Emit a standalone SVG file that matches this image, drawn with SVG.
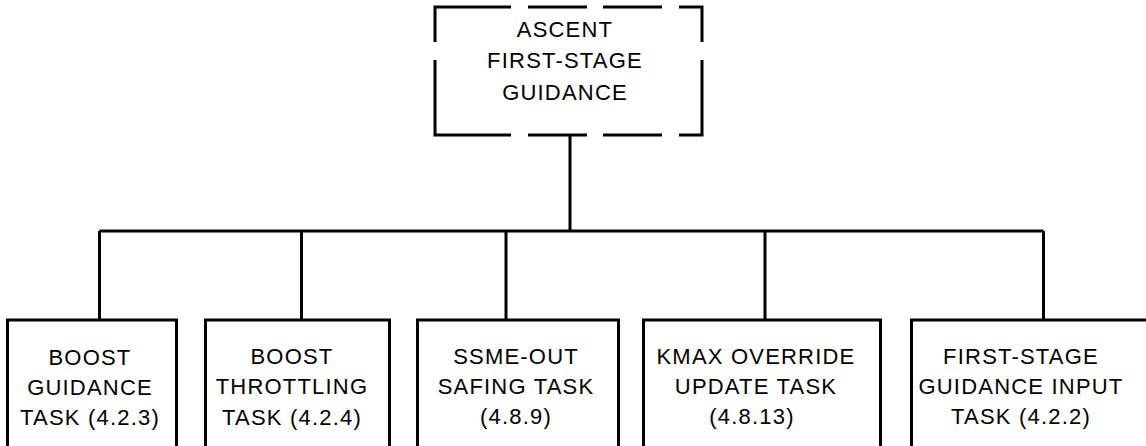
<svg xmlns="http://www.w3.org/2000/svg" width="1146" height="446" viewBox="0 0 1146 446">
<style>
.box{fill:none;stroke:#000;stroke-width:3}
.dash{fill:none;stroke:#000;stroke-width:3;stroke-linejoin:miter}
.conn{fill:none;stroke:#000;stroke-width:3}
text{font-family:"Liberation Sans",Arial,sans-serif;font-size:22px;letter-spacing:1.2px;fill:#000;text-anchor:middle}
</style>
<rect width="1146" height="446" fill="#fff"/>
<g id="connectors">
<path class="conn" d="M570,135 V231 M99.5,231 H1043.5 M99.5,231 V320 M301.5,231 V320 M506,231 V320 M765,231 V320 M1043.5,231 V320"/>
</g>
<g id="ascent">
<path class="dash" d="M435,42 V7 H511 M528,7 H587 M603,7 H662 M679,7 H702 V42 M435,60 V135 H511 M528,135 H587 M603,135 H662 M679,135 H702 V60"/>
<text x="565" y="37">ASCENT</text>
<text x="565" y="68">FIRST-STAGE</text>
<text x="565" y="100">GUIDANCE</text>
</g>
<g id="boost-guidance">
<rect class="box" x="7.5" y="320" width="169" height="150"/>
<text x="90" y="365">BOOST</text>
<text x="90" y="395">GUIDANCE</text>
<text x="90" y="425">TASK (4.2.3)</text>
</g>
<g id="boost-throttling">
<rect class="box" x="205.5" y="320" width="184" height="150"/>
<text x="292" y="364">BOOST</text>
<text x="292" y="394">THROTTLING</text>
<text x="292" y="425">TASK (4.2.4)</text>
</g>
<g id="ssme-out">
<rect class="box" x="417.5" y="320" width="201" height="150"/>
<text x="516" y="364">SSME-OUT</text>
<text x="516" y="394">SAFING TASK</text>
<text x="516" y="424">(4.8.9)</text>
</g>
<g id="kmax">
<rect class="box" x="643.5" y="320" width="237" height="150"/>
<text x="756" y="364">KMAX OVERRIDE</text>
<text x="756" y="394">UPDATE TASK</text>
<text x="752" y="424">(4.8.13)</text>
</g>
<g id="first-stage-input">
<rect class="box" x="911.5" y="320" width="260" height="150"/>
<text x="1021" y="364">FIRST-STAGE</text>
<text x="1021" y="394">GUIDANCE INPUT</text>
<text x="1021" y="424">TASK (4.2.2)</text>
</g>
</svg>
